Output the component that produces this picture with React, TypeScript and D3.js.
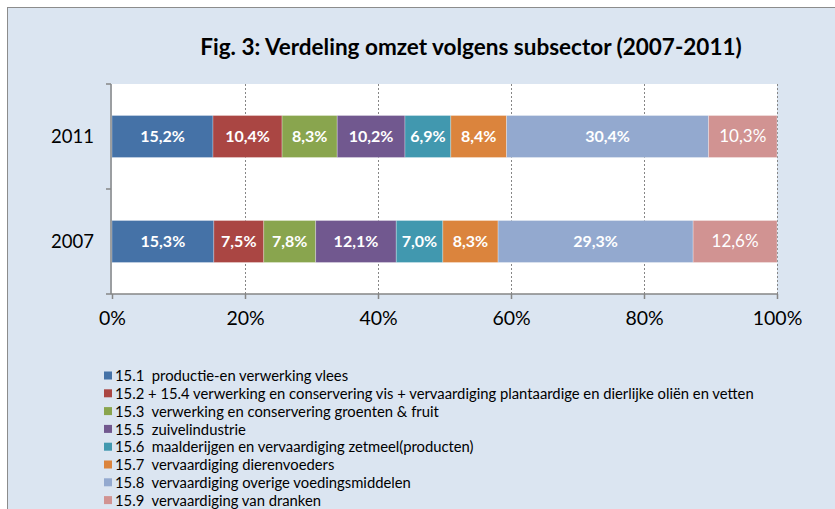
import * as d3 from "d3";
import { useEffect, useRef } from "react";

const years = ["2011", "2007"];
const sectors = [
  "15.1  productie-en verwerking vlees",
  "15.2 + 15.4 verwerking en conservering vis + vervaardiging plantaardige en dierlijke oliën en vetten",
  "15.3  verwerking en conservering groenten & fruit",
  "15.5  zuivelindustrie",
  "15.6  maalderijgen en vervaardiging zetmeel(producten)",
  "15.7  vervaardiging dierenvoeders",
  "15.8  vervaardiging overige voedingsmiddelen",
  "15.9  vervaardiging van dranken",
];
const values2011 = [15.2, 10.4, 8.3, 10.2, 6.9, 8.4, 30.4, 10.3];
const values2007 = [15.3, 7.5, 7.8, 12.1, 7.0, 8.3, 29.3, 12.6];
const colors = ["#4572a7", "#aa4643", "#89a54e", "#71588f", "#4198af", "#db843d", "#93a9cf", "#d19392"];
const ticks = [0, 20, 40, 60, 80, 100];

const W = 835;
const H = 509;
const FONT = "Lato, 'Open Sans', sans-serif";

export default function App() {
  const svgRef = useRef<SVGSVGElement>(null);

  useEffect(() => {
    const svg = d3.select(svgRef.current);
    svg.selectAll("*").remove();

    // chart area background
    svg.append("rect")
      .attr("x", 7.5).attr("y", 7.5)
      .attr("width", W + 20).attr("height", H + 20)
      .attr("fill", "#dbe5f1").attr("stroke", "#8c8c8c");

    svg.append("text")
      .attr("x", 471).attr("y", 55)
      .attr("text-anchor", "middle")
      .attr("font-family", FONT).attr("font-weight", "bold")
      .attr("font-size", 22.5).attr("fill", "#000")
      .text("Fig. 3: Verdeling omzet volgens subsector (2007-2011)");

    const x = d3.scaleLinear().domain([0, 100]).range([112, 777]);
    const y = d3.scaleBand().domain(years).range([84, 294]).paddingInner(0.6).paddingOuter(0.3);

    svg.append("rect")
      .attr("x", x(0)).attr("y", 84)
      .attr("width", x(100) - x(0)).attr("height", 210)
      .attr("fill", "#fff");

    // dotted gridlines
    svg.append("g").selectAll("line").data(ticks.slice(1)).join("line")
      .attr("x1", (d) => x(d) + 0.5).attr("x2", (d) => x(d) + 0.5)
      .attr("y1", 84).attr("y2", 294)
      .attr("stroke", "#868686").attr("stroke-dasharray", "2,2");

    const rows = [
      { year: "2011", vals: values2011 },
      { year: "2007", vals: values2007 },
    ];

    rows.forEach((row) => {
      const total = d3.sum(row.vals);
      let acc = 0;
      const segs = row.vals.map((v, i) => {
        const s = { i, v, x0: (acc / total) * 100, x1: ((acc + v) / total) * 100 };
        acc += v;
        return s;
      });
      const g = svg.append("g");
      g.selectAll("rect").data(segs).join("rect")
        .attr("x", (d) => x(d.x0)).attr("y", y(row.year)!)
        .attr("width", (d) => x(d.x1) - x(d.x0)).attr("height", y.bandwidth())
        .attr("fill", (d) => colors[d.i])
        .attr("stroke", "#ffffff").attr("stroke-opacity", 0.35).attr("stroke-width", 0.8);
      g.selectAll("text").data(segs).join("text")
        .attr("x", (d) => (x(d.x0) + x(d.x1)) / 2)
        .attr("y", y(row.year)! + y.bandwidth() / 2)
        .attr("dy", "0.35em")
        .attr("text-anchor", "middle")
        .attr("font-family", FONT)
        .attr("font-weight", (d) => (d.i === 7 ? "normal" : "bold"))
        .attr("font-size", (d) => (d.i === 7 ? 17 : 16))
        .attr("fill", "#fff")
        .text((d) => d.v.toFixed(1).replace(".", ",") + "%");
    });

    // axes
    const xAxis = svg.append("g").attr("transform", "translate(0,294)")
      .call(d3.axisBottom(x).tickValues(ticks).tickSize(5).tickFormat((d) => d + "%"));
    xAxis.select(".domain").attr("stroke", "#868686").attr("stroke-width", 1.5).attr("d", `M${x(0) - 6},0H${x(100)}`);
    xAxis.selectAll(".tick line").attr("stroke", "#868686").attr("stroke-width", 1.5);
    xAxis.selectAll(".tick text")
      .attr("font-family", FONT).attr("font-size", 19.5).attr("fill", "#000").attr("dy", "1.2em");

    const yAxisG = svg.append("g");
    yAxisG.append("line")
      .attr("x1", x(0) - 1).attr("x2", x(0) - 1).attr("y1", 84).attr("y2", 294)
      .attr("stroke", "#868686").attr("stroke-width", 1.5);
    yAxisG.selectAll("line.tk").data([84, 189]).join("line").attr("class", "tk")
      .attr("x1", x(0) - 6).attr("x2", x(0) - 1).attr("y1", (d) => d).attr("y2", (d) => d)
      .attr("stroke", "#868686").attr("stroke-width", 1.5);
    yAxisG.selectAll("text").data(years).join("text")
      .attr("x", 94).attr("y", (d) => y(d)! + y.bandwidth() / 2)
      .attr("dy", "0.35em").attr("text-anchor", "end")
      .attr("font-family", FONT).attr("font-size", 18.5).attr("fill", "#000")
      .text((d) => d);

    // legend
    const lg = svg.append("g").attr("transform", "translate(104,376)");
    const item = lg.selectAll("g").data(sectors).join("g")
      .attr("transform", (_d, i) => `translate(0,${i * 17.8})`);
    item.append("rect")
      .attr("x", 0).attr("y", -4.5).attr("width", 8).attr("height", 8)
      .attr("fill", (_d, i) => colors[i]);
    item.append("text")
      .attr("x", 11).attr("y", 0).attr("dy", "0.35em")
      .attr("font-family", FONT).attr("font-size", 14.8).attr("fill", "#000")
      .attr("xml:space", "preserve")
      .text((d) => d);
  }, []);

  return (
    <svg
      ref={svgRef}
      width={W}
      height={H}
      style={{ position: "absolute", left: 0, top: 0, background: "#fff" }}
    />
  );
}
